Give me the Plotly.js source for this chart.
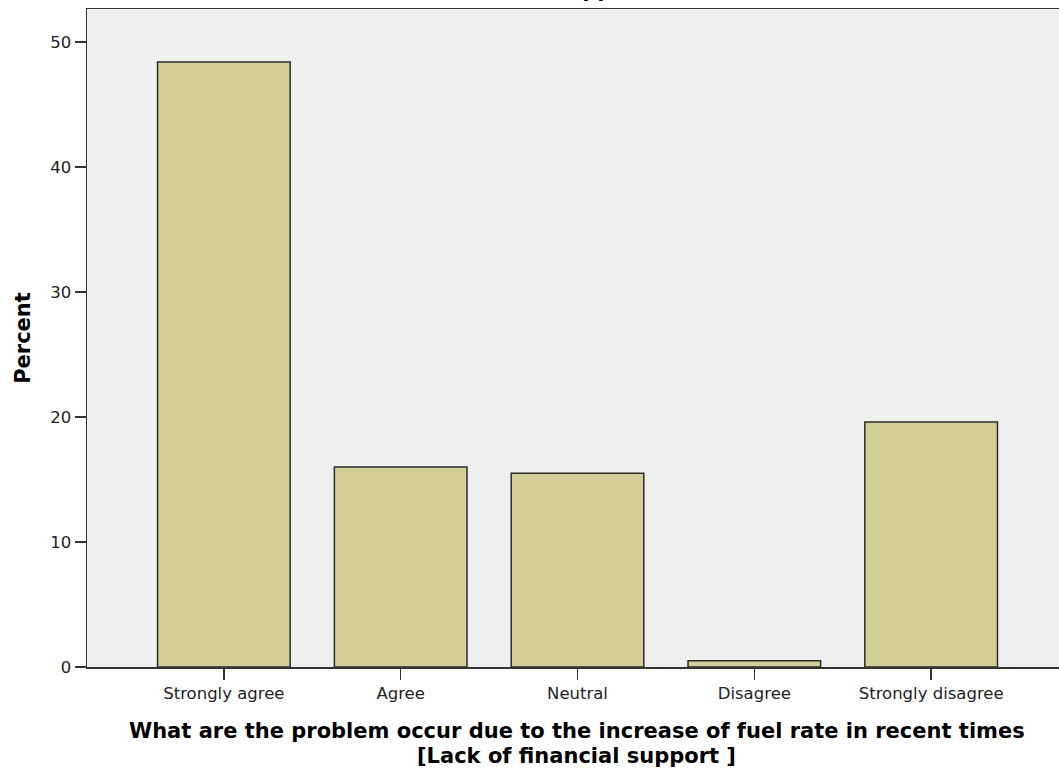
<!DOCTYPE html>
<html>
<head>
<meta charset="utf-8">
<script src="https://cdn.plot.ly/plotly-3.0.1.min.js"></script>
<style>html,body{margin:0;padding:0;background:#fff;}#chart{width:1059px;height:771px;}</style>
</head>
<body>
<div id="chart"></div>
<script>
const categories = ["Strongly agree", "Agree", "Neutral", "Disagree", "Strongly disagree"];
const percents = [48.4, 16.0, 15.5, 0.5, 19.6];
const yTicks = [0, 10, 20, 30, 40, 50];
const xTitleLine1 = "What are the problem occur due to the increase of fuel rate in recent times";
const xTitleLine2 = "[Lack of financial support ]";
const yTitle = "Percent";

const trace = {
  type: "bar",
  x: categories,
  y: percents,
  marker: {color: "#d3ce97", line: {color: "#2b2b2b", width: 1.5}},
  hoverinfo: "x+y"
};

const boldFont = {family: "DejaVu Sans, sans-serif", size: 21, color: "#000", weight: "bold"};

const layout = {
  width: 1059, height: 771,
  margin: {l: 87, r: 0, t: 9, b: 104},
  paper_bgcolor: "#ffffff",
  plot_bgcolor: "#efefef",
  bargap: 0.25,
  showlegend: false,
  font: {family: "DejaVu Sans, sans-serif", color: "#111"},
  xaxis: {
    type: "category",
    range: [-0.774, 4.723],
    showline: true, linecolor: "#333", linewidth: 1.5, mirror: true,
    ticks: "outside", ticklen: 11, tickwidth: 1.5, tickcolor: "#333",
    tickfont: {family: "DejaVu Sans, sans-serif", size: 16.5, color: "#222"},
    showgrid: false, zeroline: false
  },
  yaxis: {
    range: [0, 52.64],
    tickvals: yTicks,
    showline: true, linecolor: "#333", linewidth: 1.5,
    ticks: "outside", ticklen: 11, tickwidth: 1.5, tickcolor: "#333",
    tickfont: {family: "DejaVu Sans, sans-serif", size: 16.5, color: "#222"},
    showgrid: false, zeroline: false,
    title: {text: yTitle, font: {family: "DejaVu Sans, sans-serif", size: 21, color: "#000", weight: "bold"}, standoff: 14}
  },
  annotations: [
    {text: xTitleLine1, xref: "paper", yref: "paper", x: 0.504, y: 0, xanchor: "center", yanchor: "middle", yshift: -64, showarrow: false, font: boldFont},
    {text: xTitleLine2, xref: "paper", yref: "paper", x: 0.504, y: 0, xanchor: "center", yanchor: "middle", yshift: -89, showarrow: false, font: boldFont},
    {text: xTitleLine2, xref: "paper", yref: "paper", x: 0.596, y: 1, xanchor: "right", yanchor: "bottom", yshift: 5, showarrow: false, font: boldFont}
  ]
};

Plotly.newPlot("chart", [trace], layout, {displayModeBar: false, staticPlot: true});
</script>
</body>
</html>
